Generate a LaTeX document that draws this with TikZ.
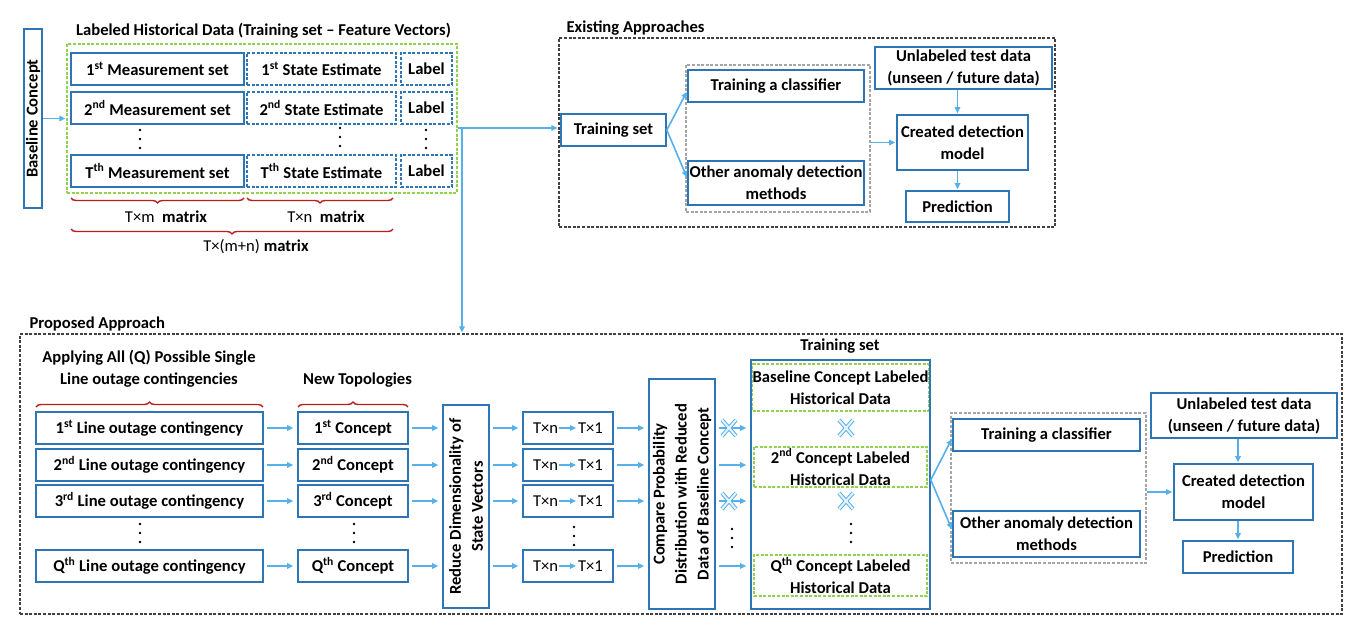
\documentclass[tikz,border=0pt]{standalone}
\usepackage{fontspec}
\setmainfont{Carlito}
\usetikzlibrary{arrows.meta,decorations.pathreplacing}

\newcommand{\kFont}{\fontsize{16.6}{22}\selectfont}

\begin{document}
\begin{tikzpicture}[x=1pt,y=-1pt,font=\kFont,
  box/.style={draw=kBlue,line width=1.6pt,font=\kFont\bfseries,align=center,inner sep=1pt},
  dbox/.style={box,dash pattern=on 3pt off 1.6pt},
  gbox/.style={draw=kGreen,line width=1.3pt,dash pattern=on 3pt off 1.6pt,inner sep=0pt,align=center,font=\kFont\bfseries},
  frame/.style={draw=kDark,line width=1.2pt,dash pattern=on 3pt off 1.6pt,inner sep=0pt},
  gframe/.style={draw=kGrey,line width=1.2pt,dash pattern=on 3pt off 1.6pt,inner sep=0pt},
  arr/.style={draw=kArrow,line width=1.6pt,-{Triangle[length=6pt,width=5.5pt]},shorten >=1pt},
  gap/.style={shorten <=3pt,shorten >=4pt},
  brc/.style={draw=kRed,line width=1.4pt,decorate,decoration={brace,amplitude=5pt}},
  brcd/.style={brc,decoration={mirror}},
  ttl/.style={font=\kFont\bfseries},
  xmark/.pic={\draw[draw=kArrow,line width=1pt,double=kArrow!15,double distance=2pt] (-7,-8) -- (7,8) (-7,8) -- (7,-8);},
  kdots/.pic={\foreach \d in {-9,0,9} \fill (0,\d) circle (1.4);}
]
  \definecolor{kBlue}{RGB}{46,117,182}
  \definecolor{kArrow}{RGB}{86,176,234}
  \definecolor{kGreen}{RGB}{146,208,80}
  \definecolor{kGrey}{RGB}{165,165,165}
  \definecolor{kDark}{RGB}{64,64,64}
  \definecolor{kRed}{RGB}{185,30,30}

  \useasboundingbox (0,0) rectangle (1364,628);

  % frames
  \node[gbox,minimum width=390,minimum height=149] (hist) at (262,118.5) {};
  \node[frame,minimum width=496,minimum height=189] (exbox) at (807,132.5) {};
  \node[gframe,minimum width=184,minimum height=147] (gry1) at (778,138.5) {};
  \node[frame,minimum width=1322,minimum height=280] (propbox) at (681,474) {};
  \node[gframe,minimum width=195,minimum height=150] (gry2) at (1048.5,488) {};

  % titles
  \node[ttl] (histttl) at (263.5,31) {Labeled Historical Data (Training set – Feature Vectors)};
  \node[ttl,anchor=west] (exttl) at (563,28) {Existing Approaches};
  \node[ttl,anchor=west] (prttl) at (26,324) {Proposed Approach};
  \node[ttl,align=center] (applyttl) at (149,369) {Applying All (Q) Possible Single\\Line outage contingencies};
  \node[ttl] (newttl) at (357.5,380) {New Topologies};
  \node[ttl] (tsttl) at (840,346) {Training set};

  % baseline concept and historical data
  \node[box,rotate=90,minimum width=179,minimum height=18,inner sep=0pt] (base) at (33,118.5) {Baseline Concept};
  \foreach \n/\y/\o/\s in {1/69/1/st,2/108/2/nd,t/171/T/th}
  {
    \node[box,minimum width=173,minimum height=32] (ms\n) at (157.5,\y) {\o\textsuperscript{\s} Measurement set};
    \node[dbox,minimum width=149,minimum height=32] (se\n) at (321.5,\y) {\o\textsuperscript{\s}\ State Estimate};
    \node[dbox,minimum width=51,minimum height=32] (lb\n) at (426.5,\y) {Label};
  }
  \pic at (140,139) {kdots};
  \pic at (340,137) {kdots};
  \pic at (426,139) {kdots};

  \draw[brcd] (71,198) -- (244,198);
  \draw[brcd] (247,198) -- (393,198);
  \draw[brcd] (71,229) -- (393,229);
  \node (mlbl) at (166,217) {T×m\ \ \textbf{matrix}};
  \node (nlbl) at (326,217) {T×n\ \ \textbf{matrix}};
  \node (mnlbl) at (256,247) {T×(m+n)\ \textbf{matrix}};

  \draw[arr] (base.south) -- (base.south -| hist.west);
  \coordinate (br) at (462,128);
  \draw[arr] (hist.east |- br) -- (br -| exbox.west);
  \draw[arr] (br) -- (br |- propbox.north);

  % existing approaches
  \node[box,minimum width=105,minimum height=32] (trset) at (613.5,130) {Training set};
  \node[box,minimum width=176,minimum height=32] (clf) at (776,86) {Training a classifier};
  \node[box,minimum width=176,minimum height=44] (oth) at (776,183) {Other anomaly detection\\methods};
  \node[box,minimum width=177,minimum height=42] (unl) at (963.5,68) {Unlabeled test data\\(unseen / future data)};
  \node[box,minimum width=131,minimum height=55] (cdm) at (962.5,142.5) {Created detection\\model};
  \node[box,minimum width=103,minimum height=31] (pred) at (957.5,206.5) {Prediction};

  \draw[arr] (trset.east) -- ([yshift=-5]clf.west);
  \draw[arr] (trset.east) -- ([yshift=5]oth.west);
  \draw[arr] (gry1.east |- cdm) -- (cdm.west);
  \draw[arr] (pred |- unl.south) -- (pred |- cdm.north);
  \draw[arr] (pred |- cdm.south) -- (pred.north);

  % proposed approach
  \draw[brc] (36,407) -- (263,407);
  \draw[brc] (298,407) -- (408,407);
  \node[box,rotate=90,minimum width=203,minimum height=46] (red) at (466,506.5) {Reduce Dimensionality of\\State Vectors};
  \node[box,rotate=90,minimum width=230,minimum height=66] (cmp) at (682,494) {Compare Probability\\Distribution with Reduced\\Data of Baseline Concept};
  \node[box,minimum width=179,minimum height=249] (tsout) at (840.5,484.5) {};
  \node[gbox,minimum width=173,minimum height=47] (bl) at (840.5,387.5) {Baseline Concept Labeled\\Historical Data};
  \node[gbox,minimum width=173,minimum height=40] (c2) at (840.5,467) {2\textsuperscript{nd} Concept Labeled\\Historical Data};
  \node[gbox,minimum width=173,minimum height=41] (cq) at (840.5,575.5) {Q\textsuperscript{th} Concept Labeled\\Historical Data};

  \foreach \n/\y/\o/\s in {1/428/1/st,2/465/2/nd,3/501/3/rd,q/566/Q/th}
  {
    \node[box,minimum width=227,minimum height=32] (ct\n) at (149.5,\y) {\o\textsuperscript{\s} Line outage contingency};
    \node[box,minimum width=110,minimum height=32] (cc\n) at (353,\y) {\o\textsuperscript{\s} Concept};
    \node[box,minimum width=90,minimum height=32,font=\kFont] (tx\n) at (568,\y) {T×n\hspace{20pt}T×1};
    \draw[arr,gap] (ct\n) -- (cc\n);
    \draw[arr,gap] (cc\n) -- (cc\n -| red.north);
    \draw[arr,gap] (red.south |- tx\n) -- (tx\n);
    \draw[arr,line width=1.3pt] ([xshift=-9]tx\n.center) -- ([xshift=9]tx\n.center);
    \draw[arr,gap] (tx\n) -- (tx\n -| cmp.north);
    \draw[arr,gap] (cmp.south |- tx\n) -- (tx\n -| tsout.west);
  }
  \pic at (140,533) {kdots};
  \pic at (354,533) {kdots};
  \pic at (574,536) {kdots};
  \pic at (732,538) {kdots};
  \pic at (851,533) {kdots};
  \pic at (729,428) {xmark};
  \pic at (729,501) {xmark};
  \pic at (846,428) {xmark};
  \pic at (846,501) {xmark};

  \node[box,minimum width=187,minimum height=32] (clf2) at (1046.5,435) {Training a classifier};
  \node[box,minimum width=187,minimum height=46] (oth2) at (1046.5,534) {Other anomaly detection\\methods};
  \node[box,minimum width=186,minimum height=45] (unl2) at (1244,415.5) {Unlabeled test data\\(unseen / future data)};
  \node[box,minimum width=139,minimum height=56] (cdm2) at (1243.5,492) {Created detection\\model};
  \node[box,minimum width=110,minimum height=32] (pred2) at (1238,557) {Prediction};

  \draw[arr] ([yshift=4.5]tsout.east) -- ([yshift=-3]clf2.west);
  \draw[arr] ([yshift=4.5]tsout.east) -- ([yshift=4]oth2.west);
  \draw[arr] (gry2.east |- cdm2) -- (cdm2.west);
  \draw[arr] (pred2 |- unl2.south) -- (pred2 |- cdm2.north);
  \draw[arr] (pred2 |- cdm2.south) -- (pred2.north);
\end{tikzpicture}
\end{document}
